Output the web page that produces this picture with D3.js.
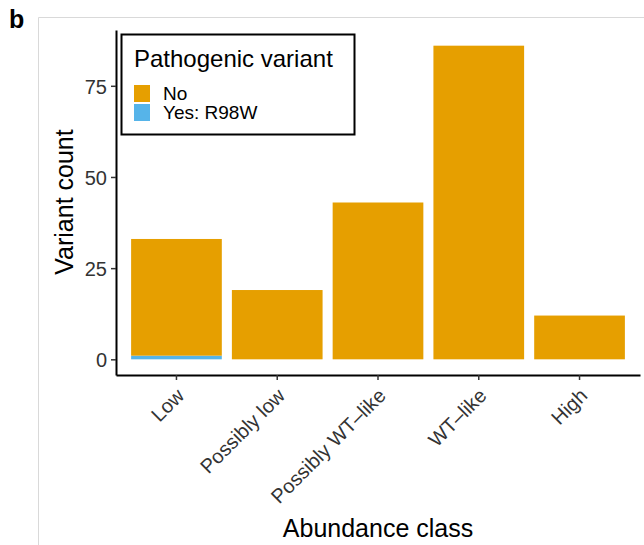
<!DOCTYPE html>
<html>
<head>
<meta charset="utf-8">
<script src="https://cdn.jsdelivr.net/npm/d3@7"></script>
<style>
  body { margin: 0; background: #fff; }
  svg text { font-family: "Liberation Sans", Arial, sans-serif; }
</style>
</head>
<body>
<div id="chart"></div>
<script>
// data
const classes = ["Low", "Possibly low", "Possibly WT\u2013like", "WT\u2013like", "High"];
const countNo = [32, 19, 43, 86, 12];
const countYes = [1, 0, 0, 0, 0];
const groups = ["No", "Yes: R98W"];
const yTicks = [0, 25, 50, 75];

const width = 644, height = 545;
const colors = {"No": "#E69F00", "Yes: R98W": "#56B4E9"};

let svg = d3.select("#chart")
    .append("svg")
    .attr("width", width)
    .attr("height", height);

// figure panel frame
svg.append("path")
    .attr("d", "M38.5," + height + "V17.5H" + width)
    .attr("fill", "none")
    .attr("stroke", "#d9d9d9")
    .attr("stroke-width", 1);

svg.append("text")
    .attr("x", 9)
    .attr("y", 28)
    .style("font-size", "25px")
    .style("font-weight", "bold")
    .text("b");

let x = d3.scaleBand()
    .domain(classes)
    .range([116, 640])
    .paddingInner(0.1)
    .paddingOuter(0.15);

let y = d3.scaleLinear()
    .domain([-4.3, 90.3])
    .range([375, 30]);

// stacked counts, Yes at the bottom
let rows = classes.map(function (c, i) {
    return {cls: c, "Yes: R98W": countYes[i], "No": countNo[i]};
});
let stack = d3.stack().keys(["Yes: R98W", "No"])(rows);

svg.append("g")
    .selectAll("g")
    .data(stack)
    .enter().append("g")
    .attr("fill", function (d) { return colors[d.key]; })
    .selectAll("rect")
    .data(function (d) { return d.filter(function (p) { return p[1] > p[0]; }); })
    .enter().append("rect")
    .attr("x", function (d) { return x(d.data.cls); })
    .attr("width", x.bandwidth())
    .attr("y", function (d) { return y(d[1]); })
    .attr("height", function (d) { return y(d[0]) - y(d[1]); });

// axes
let yAxis = svg.append("g")
    .attr("transform", "translate(116,0)")
    .call(d3.axisLeft(y).tickValues(yTicks).tickSize(5).tickPadding(4).tickSizeOuter(0));
yAxis.select(".domain").attr("stroke", "#000").attr("stroke-width", 2);
yAxis.selectAll(".tick line").attr("stroke", "#333").attr("stroke-width", 1.5);
yAxis.selectAll(".tick text")
    .attr("fill", "#333")
    .style("font-size", "20px")
    .attr("dy", "0.36em");

let xAxis = svg.append("g")
    .attr("transform", "translate(0,375)")
    .call(d3.axisBottom(x).tickSize(5).tickSizeOuter(0));
xAxis.select(".domain").attr("stroke", "#000").attr("stroke-width", 2);
xAxis.selectAll(".tick line").attr("stroke", "#333").attr("stroke-width", 1.5);
xAxis.selectAll(".tick text")
    .attr("fill", "#333")
    .style("font-size", "20px")
    .style("text-anchor", "end")
    .attr("x", 0)
    .attr("y", 0)
    .attr("dy", 0)
    .attr("transform", "translate(9,22) rotate(-45)");

svg.append("text")
    .attr("x", (116 + 640) / 2)
    .attr("y", 537)
    .attr("text-anchor", "middle")
    .style("font-size", "25px")
    .text("Abundance class");

svg.append("text")
    .attr("transform", "translate(73,202) rotate(-90)")
    .attr("text-anchor", "middle")
    .style("font-size", "25px")
    .text("Variant count");

// legend
let legend = svg.append("g");
legend.append("rect")
    .attr("x", 121.5)
    .attr("y", 34.5)
    .attr("width", 233)
    .attr("height", 100)
    .attr("fill", "#fff")
    .attr("stroke", "#000")
    .attr("stroke-width", 2);
legend.append("text")
    .attr("x", 134)
    .attr("y", 67)
    .style("font-size", "24px")
    .text("Pathogenic variant");

let item = legend.selectAll(".item")
    .data(groups)
    .enter().append("g")
    .attr("class", "item")
    .attr("transform", function (d, i) { return "translate(134," + (85 + i * 19) + ")"; });
item.append("rect")
    .attr("width", 16)
    .attr("height", 17)
    .attr("fill", function (d) { return colors[d]; });
item.append("text")
    .attr("x", 29)
    .attr("y", 15)
    .style("font-size", "19px")
    .text(function (d) { return d; });
</script>
</body>
</html>
